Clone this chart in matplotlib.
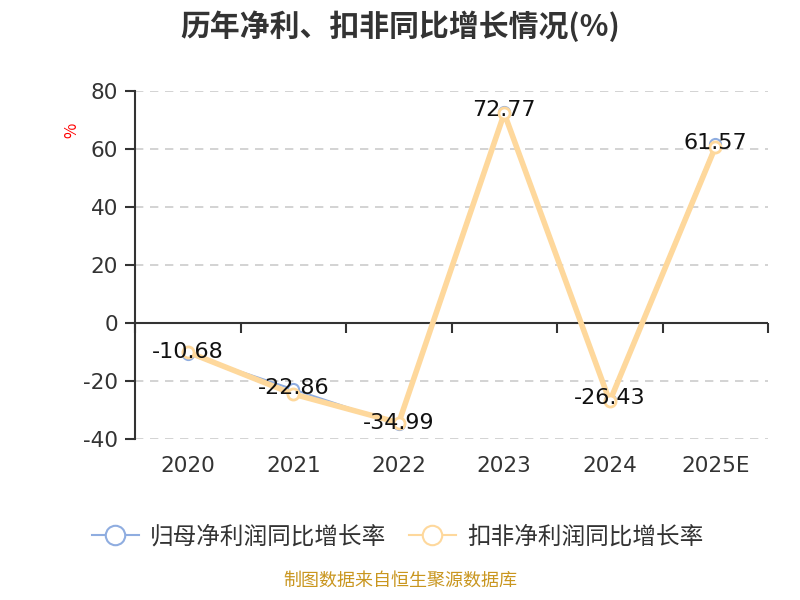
import matplotlib
matplotlib.use("Agg")
import matplotlib.pyplot as plt
from matplotlib.lines import Line2D

plt.rcParams['font.family'] = ['Noto Sans CJK SC', 'DejaVu Sans']
NUM_FONT = ['DejaVu Sans', 'Noto Sans CJK SC']

categories = ["2020", "2021", "2022", "2023", "2024", "2025E"]
net_profit_growth = [-10.68, -22.86, -34.99, 72.77, -26.43, 61.57]
deducted_growth = [-10.0, -24.5, -34.4, 72.3, -27.0, 60.6]
series_names = ["归母净利润同比增长率", "扣非净利润同比增长率"]
yticks = [-40, -20, 0, 20, 40, 60, 80]

blue = "#8fade0"
orange = "#fed89c"
dark = "#333333"

fig = plt.figure(figsize=(8, 6), dpi=100)
ax = fig.add_axes([0.16875, 0.2683, 0.79125, 0.58])

x = list(range(len(categories)))
ax.plot(x, net_profit_growth, color=blue, lw=1.5, marker='o', ms=8,
        mfc='white', mec=blue, mew=1.5, zorder=3, clip_on=False)
ax.plot(x, deducted_growth, color=orange, lw=4, marker='o', ms=8,
        mfc='white', mec=orange, mew=2, zorder=4, clip_on=False)

for xi, v in zip(x, net_profit_growth):
    ax.text(xi, v + 0.6, f"{v:.2f}", ha='center', va='center',
            fontsize=16, color='#111111', zorder=5, family=NUM_FONT)

ax.set_xlim(-0.5, len(categories) - 0.5)
ax.set_ylim(-40, 80)
ax.set_yticks(yticks)
ax.set_yticklabels([str(t) for t in yticks], fontsize=15.5, color=dark,
                   family=NUM_FONT)
ax.tick_params(axis='y', direction='out', length=7.2, width=1.5, color=dark, pad=5)
ax.set_xticks(x)
ax.set_xticklabels(categories, fontsize=15.5, color=dark, family=NUM_FONT)
ax.tick_params(axis='x', length=0, pad=12)

for s in ['top', 'right', 'bottom']:
    ax.spines[s].set_visible(False)
ax.spines['left'].set_color(dark)
ax.spines['left'].set_linewidth(1.5)

for t in yticks:
    if t != 0:
        ax.axhline(t, color='#cccccc', lw=1.2, ls=(0, (5, 4)), zorder=1)
ax.axhline(0, color=dark, lw=1.5, zorder=2)
for b in range(len(categories) + 1):
    ax.plot([b - 0.5, b - 0.5], [0, -3.4], color=dark, lw=1.5, zorder=2,
            clip_on=False, solid_capstyle='butt')

fig.text(0.09, 0.782, "%", color='red', fontsize=12, rotation=90,
         ha='center', va='center')

fig.text(0.5, 0.957, "历年净利、扣非同比增长情况(%)", ha='center', va='center',
         fontsize=21.5, fontweight='bold', color=dark)

handles = [
    Line2D([0], [0], color=blue, lw=1.5, marker='o', ms=14, mfc='white', mec=blue, mew=1.5),
    Line2D([0], [0], color=orange, lw=1.5, marker='o', ms=14, mfc='white', mec=orange, mew=1.5),
]
fig.legend(handles, series_names, loc='center', bbox_to_anchor=(0.497, 0.105),
           ncol=2, frameon=False, fontsize=17, handlelength=2.0,
           columnspacing=0.95, handletextpad=0.47, labelcolor=dark)

fig.text(0.5, 0.017, "制图数据来自恒生聚源数据库", ha='center', va='bottom',
         fontsize=13, color='#c9961f')

fig.savefig("out.png", dpi=100)
